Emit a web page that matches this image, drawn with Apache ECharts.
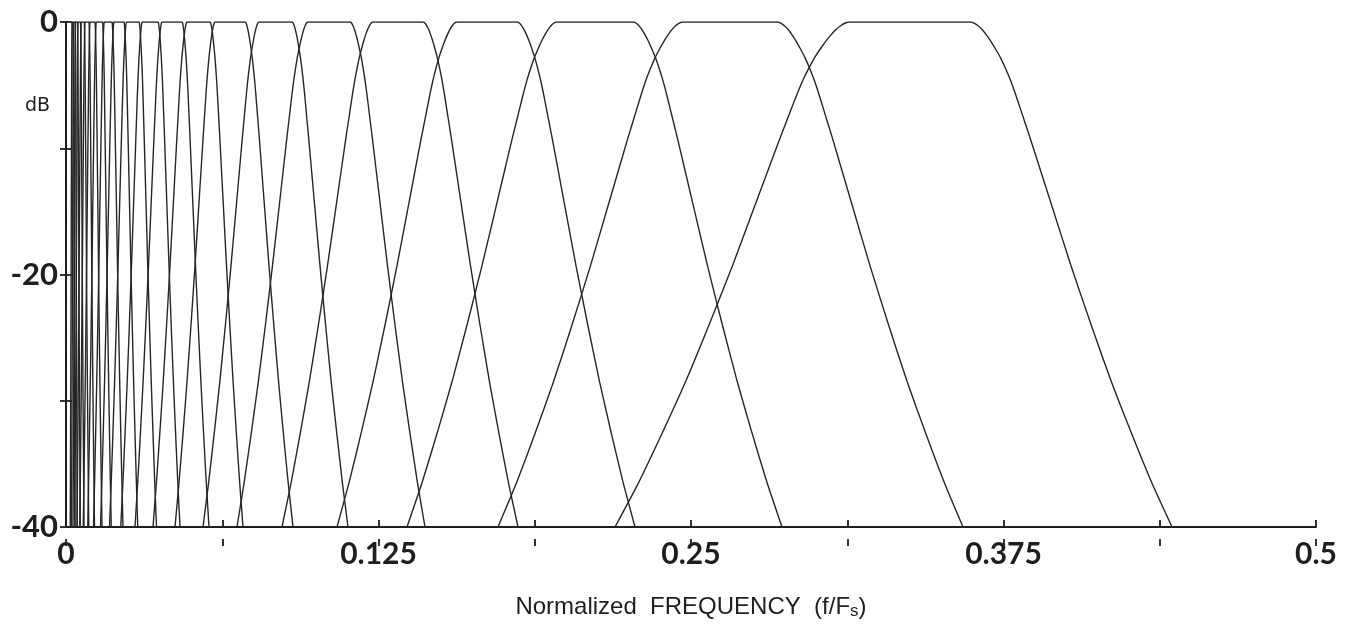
<!DOCTYPE html>
<html>
<head>
<meta charset="utf-8">
<script src="https://cdn.jsdelivr.net/npm/echarts@6/dist/echarts.min.js"></script>
<style>
html,body{margin:0;padding:0;background:#fff;}
#chart{width:1349px;height:625px;}
</style>
</head>
<body>
<div id="chart"></div>
<script>
// ---- data (frequency in f/Fs) ----
// one-third-octave filter bank, largest band first
const lowEdge   = [0.2196,0.1728,0.1364,0.1084,0.0864,0.0684,0.0548,0.0436,0.0348,0.0276,0.0219,0.0174,0.0138,0.0110,0.0087,0.0069,0.0055,0.0044,0.0035,0.0028,0.0022,0.0017];
const flatStart = [0.3136,0.2468,0.1964,0.1564,0.1228,0.0968,0.0772,0.0596,0.0484,0.0384,0.0305,0.0242,0.0192,0.0153,0.0121,0.0096,0.0076,0.0061,0.0048,0.0038,0.0030,0.0024];
const flatEnd   = [0.3616,0.2844,0.2268,0.1804,0.1428,0.1136,0.0904,0.0716,0.0576,0.0464,0.0368,0.0292,0.0232,0.0184,0.0146,0.0116,0.0092,0.0073,0.0058,0.0046,0.0037,0.0029];
const highEdge  = [0.4424,0.3588,0.2864,0.2276,0.1808,0.1436,0.1128,0.0908,0.0708,0.0572,0.0456,0.0362,0.0287,0.0228,0.0181,0.0144,0.0114,0.0091,0.0072,0.0057,0.0045,0.0036];
// skirt shape (fraction of the way from passband edge to the -40 dB point, dB)
const skirtPos = [0,0.02,0.04,0.06,0.08,0.1,0.125,0.15,0.175,0.2,0.225,0.25,0.3,0.35,0.4,0.5,0.6,0.7,0.8,0.9,1.0];
const skirtDb  = [0,-0.08,-0.3,-0.6,-1.0,-1.45,-2.1,-2.8,-3.65,-4.6,-5.7,-6.9,-9.3,-11.8,-14.3,-19.3,-24.0,-28.5,-32.6,-36.5,-40];
// axes
const xLabelValues = [0,0.125,0.25,0.375,0.5];
const xLabelText = ['0','0.125','0.25','0.375','0.5'];
const yLabelValues = [0,-20,-40];
const yLabelText = ['0','-20','-40'];

// ---- build series ----
const series = [];
for (let k = 0; k < lowEdge.length; k++) {
  const pts = [];
  const ls = flatStart[k] - lowEdge[k];
  for (let i = skirtPos.length - 1; i >= 0; i--) {
    pts.push([flatStart[k] - skirtPos[i] * ls, skirtDb[i]]);
  }
  const rs = highEdge[k] - flatEnd[k];
  for (let i = 0; i < skirtPos.length; i++) {
    pts.push([flatEnd[k] + skirtPos[i] * rs, skirtDb[i]]);
  }
  series.push({
    type: 'line',
    data: pts,
    showSymbol: false,
    symbol: 'none',
    smooth: 0.2,
    lineStyle: {color: '#262626', width: 1.4},
    silent: true,
    xAxisIndex: 0,
    yAxisIndex: 0
  });
}

function xFmt(v) {
  for (let i = 0; i < xLabelValues.length; i++) if (Math.abs(v - xLabelValues[i]) < 1e-9) return xLabelText[i];
  return '';
}
function yFmt(v) {
  for (let i = 0; i < yLabelValues.length; i++) if (Math.abs(v - yLabelValues[i]) < 1e-9) return yLabelText[i];
  return '';
}

const GRID_W = 1349 - 66 - 33;
const GRID_H = 625 - 22 - 86;

const chart = echarts.init(document.getElementById('chart'), null, {renderer: 'canvas'});
chart.setOption({
  backgroundColor: '#ffffff',
  animation: false,
  grid: {left: 66, right: 33, top: 22, bottom: 86, containLabel: false},
  xAxis: [{
    type: 'value', min: 0, max: 0.5, interval: 0.0625, position: 'bottom',
    axisLine: {show: true, onZero: false, lineStyle: {color: '#1e1e1e', width: 2}},
    axisTick: {show: true, inside: true, length: 7, lineStyle: {color: '#1e1e1e', width: 1.8}},
    splitLine: {show: false},
    axisLabel: {formatter: xFmt, fontFamily: 'Lato', fontWeight: 'bold', fontSize: 30, color: '#1e1e1e', margin: 12},
    name: '{a|Normalized  FREQUENCY  (f/F}{b|s}{a|)}',
    nameLocation: 'middle', nameGap: 68,
    nameTextStyle: {
      rich: {
        a: {fontFamily: 'Liberation Sans', fontSize: 24, color: '#1e1e1e'},
        b: {fontFamily: 'Liberation Sans', fontSize: 17, color: '#1e1e1e', padding: [8, 0, 0, 0]}
      }
    }
  }, {
    type: 'value', min: 0, max: 0.5, interval: 0.0625, position: 'top', offset: -GRID_H,
    axisLine: {show: false, onZero: false},
    axisTick: {show: true, inside: true, length: 7, lineStyle: {color: '#1e1e1e', width: 1.8}},
    splitLine: {show: false},
    axisLabel: {show: false}
  }],
  yAxis: [{
    type: 'value', min: -40, max: 0, interval: 10, position: 'left',
    axisLine: {show: true, onZero: false, lineStyle: {color: '#1e1e1e', width: 2}},
    axisTick: {show: true, inside: true, length: 6, lineStyle: {color: '#1e1e1e', width: 1.8}},
    splitLine: {show: false},
    axisLabel: {formatter: yFmt, fontFamily: 'Lato', fontWeight: 'bold', fontSize: 31, color: '#1e1e1e', margin: 8},
    name: 'dB', nameLocation: 'end', nameGap: -94,
    nameTextStyle: {fontFamily: 'DejaVu Sans', fontSize: 19, color: '#1e1e1e', align: 'right', padding: [0, 16, 0, 0]}
  }, {
    type: 'value', min: -40, max: 0, interval: 10, position: 'right', offset: -GRID_W,
    axisLine: {show: false, onZero: false},
    axisTick: {show: true, inside: true, length: 6, lineStyle: {color: '#1e1e1e', width: 1.8}},
    splitLine: {show: false},
    axisLabel: {show: false}
  }],
  series: series
});
</script>
</body>
</html>
